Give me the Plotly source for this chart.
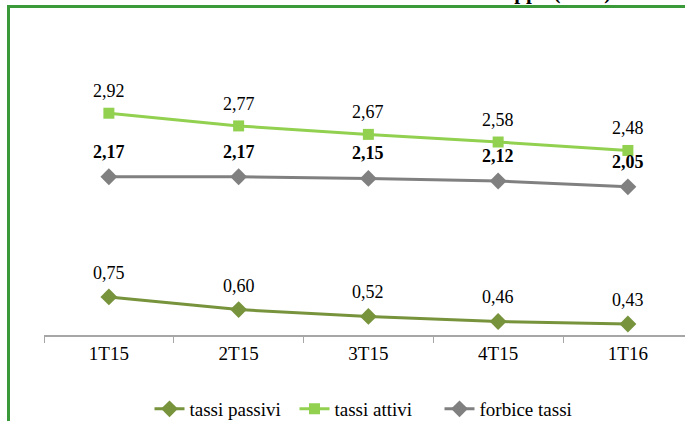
import plotly.graph_objects as go

categories = ["1T15", "2T15", "3T15", "4T15", "1T16"]
tassi_passivi = [0.75, 0.60, 0.52, 0.46, 0.43]
tassi_attivi = [2.92, 2.77, 2.67, 2.58, 2.48]
forbice_tassi = [2.17, 2.17, 2.15, 2.12, 2.05]
title_text = "Andamento trimestrale della forbice tassi di Gruppo (in %)"

W, H = 685, 421
ML, MR, MT, MB = 44, 0, 40, 86
PW, PH = W - ML - MR, H - MT - MB


def px_x(p):
    return (p - ML) / PW


def px_y(p):
    return (H - MB - p) / PH


FONT = "'Times New Roman', Times, 'Liberation Serif', 'DejaVu Serif', serif"
C_ATT = "#92D050"
C_PAS = "#77933C"
C_FOR = "#808080"

fig = go.Figure()
fig.add_trace(go.Scatter(x=categories, y=tassi_passivi, name="tassi passivi",
                         mode="lines+markers", line=dict(color=C_PAS, width=3),
                         marker=dict(symbol="diamond", size=13, color=C_PAS)))
fig.add_trace(go.Scatter(x=categories, y=tassi_attivi, name="tassi attivi",
                         mode="lines+markers", line=dict(color=C_ATT, width=3),
                         marker=dict(symbol="square", size=11, color=C_ATT)))
fig.add_trace(go.Scatter(x=categories, y=forbice_tassi, name="forbice tassi",
                         mode="lines+markers", line=dict(color=C_FOR, width=3),
                         marker=dict(symbol="diamond", size=13, color=C_FOR)))


def fmt(v):
    return f"{v:.2f}".replace(".", ",")


for c, v in zip(categories, tassi_attivi):
    fig.add_annotation(x=c, y=v, text=fmt(v), showarrow=False, yshift=22,
                       font=dict(family=FONT, size=18, color="#000"))
for c, v in zip(categories, tassi_passivi):
    fig.add_annotation(x=c, y=v, text=fmt(v), showarrow=False, yshift=24,
                       font=dict(family=FONT, size=18, color="#000"))
for c, v in zip(categories, forbice_tassi):
    fig.add_annotation(x=c, y=v, text="<b>" + fmt(v) + "</b>", showarrow=False, yshift=25,
                       font=dict(family=FONT, size=18, color="#000"))

# partially visible title at the top
fig.add_annotation(xref="paper", yref="paper", x=px_x(613), y=px_y(6.5),
                   xanchor="right", yanchor="bottom", showarrow=False,
                   text="<b>" + title_text + "</b>",
                   font=dict(family=FONT, size=21, color="#000"))

# green frame (left and top)
GREEN = "#3A9A3A"
fig.add_shape(type="line", xref="paper", yref="paper", x0=px_x(8.5), x1=px_x(8.5),
              y0=px_y(6), y1=px_y(430), line=dict(color=GREEN, width=3))
fig.add_shape(type="line", xref="paper", yref="paper", x0=px_x(7), x1=px_x(700),
              y0=px_y(6.5), y1=px_y(6.5), line=dict(color=GREEN, width=3))

fig.update_layout(
    width=W, height=H,
    margin=dict(l=ML, r=MR, t=MT, b=MB, autoexpand=False),
    paper_bgcolor="white", plot_bgcolor="white",
    showlegend=True,
    legend=dict(orientation="h", x=px_x(367), y=px_y(409), xanchor="center", yanchor="middle",
                font=dict(family=FONT, size=19, color="#000"), itemwidth=30,
                entrywidth=100, entrywidthmode="pixels"),
    hovermode=False,
    font=dict(family=FONT),
)
fig.update_xaxes(type="category", range=[-0.5, (W - 110) / 129.5],
                 showline=True, linecolor="#A6A6A6", linewidth=1.5,
                 ticks="outside", tickson="boundaries", ticklen=6, tickcolor="#A6A6A6",
                 showgrid=False, zeroline=False,
                 tickfont=dict(family=FONT, size=19, color="#000"))
fig.update_yaxes(range=[0.3, 0.3 + PH / 84.65], visible=False, showgrid=False, zeroline=False)

fig.write_html("out.html")
